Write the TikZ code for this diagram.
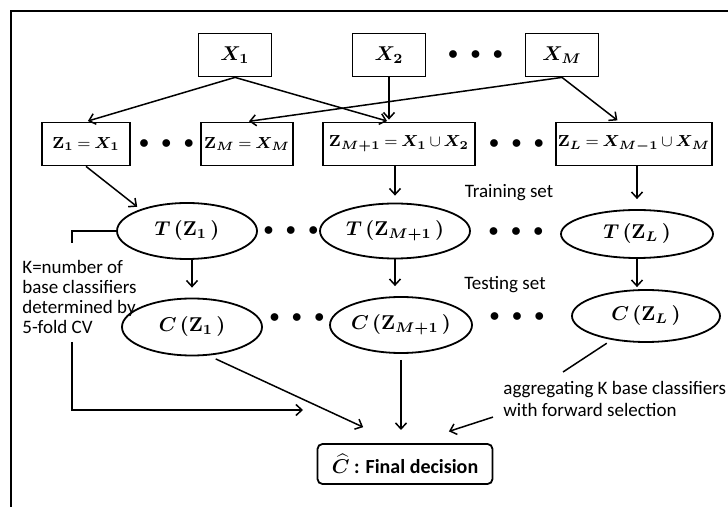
\documentclass[tikz,border=0pt]{standalone}
\usepackage{amsmath,bm}
\usepackage[no-math]{fontspec}
\setmainfont{Carlito}
\usetikzlibrary{arrows.meta,positioning,calc,shapes}
\tikzset{
  post/.style={->,shorten >=1pt,>={Straight Barb[length=3pt,width=5.5pt]},line width=0.75pt},
  link/.style={line width=0.75pt},
}
\newcommand{\vZ}[1]{\mathbf{Z}_{\bm{#1}}}
\newcommand{\vX}[1]{\bm{X}_{\bm{#1}}}
\newcommand{\dotrow}{$\bullet\hspace{4pt}\bullet\hspace{4pt}\bullet$}
\newcommand{\tightmath}{\thickmuskip=4mu plus 1mu\medmuskip=3mu plus 1mu}

\begin{document}
\begin{tikzpicture}[x=0.5pt,y=-0.5pt,
        subset/.style={rectangle, draw=black, line width=0.9pt, inner xsep=1pt,
        minimum width=36.5pt, minimum height=21.5pt, font={\fontsize{10}{12}\selectfont\tightmath}},
        model/.style={ellipse, draw=black, line width=0.9pt, inner sep=0pt,
        font={\fontsize{10}{12}\selectfont}},
        etc/.style={inner sep=0pt, font={\fontsize{10}{12}\selectfont}},
        note/.style={inner sep=0pt, align=left, font={\fontsize{9.5}{10}\selectfont}},
        decision/.style={rectangle, rounded corners=2.5pt, draw=black, line width=0.9pt,
        minimum width=87.5pt, minimum height=20pt, font={\fontsize{10}{12}\selectfont\bfseries}},
        on grid
        ]
    \useasboundingbox (0,0) rectangle (728,507);
    \draw[line width=1pt] (11,507) -- (11,11) -- (728,11);

    % subsets of the variables
    \node[subset] (x1) at (235,55) {$\vX{1}$};
    \node[subset, right=77pt of x1] (x2) {$\vX{2}$};
    \node[subset, right=86.5pt of x2] (xM) {$\vX{M}$};
    \node[etc] (d0) at ($(x2)!.5!(xM)$) {\dotrow};

    \begin{scope}[subset/.append style={font={\fontsize{8.5}{10}\selectfont\tightmath}}]
    \node[subset, minimum width=44pt] (z1) at (86,144) {$\vZ{1} = \vX{1}$};
    \node[subset, minimum width=46pt, right=80.5pt of z1] (zM) {$\vZ{M} = \vX{M}$};
    \node[subset, minimum width=76pt, right=76pt of zM] (zM1) {$\vZ{M+1} = \vX{1} \cup \vX{2}$};
    \node[subset, minimum width=77.5pt, right=117.5pt of zM1] (zL) {$\vZ{L} = \vX{M-1} \cup \vX{M}$};
    \end{scope}
    \node[etc] (d1) at ($(z1)!.5!(zM)$) {\dotrow};
    \node[etc] (d2) at ($(zM1)!.5!(zL)$) {\dotrow};

    % training and testing
    \node[model, minimum width=70pt, minimum height=28pt] (t1) at (187,231) {$\bm{T}\,\bm{(}\vZ{1}\,\bm{)}$};
    \node[model, minimum width=75pt, minimum height=27.5pt, right=104pt of t1] (tM1) {$\bm{T}\,\bm{(}\vZ{M+1}\,\bm{)}$};
    \node[model, minimum width=76pt, minimum height=24pt, below right=1.5pt and 121pt of tM1] (tL) {$\bm{T}\,\bm{(}\vZ{L}\,\bm{)}$};
    \node[etc] (d3) at ($(t1)!.5!(tM1)$) {\dotrow};
    \node[etc] (d4) at ($(tM1)!.5!(tL)$) {\dotrow};

    \node[model, minimum width=70pt, minimum height=28.5pt] (c1) at (192,327) {$\bm{C}\,\bm{(}\vZ{1}\,\bm{)}$};
    \node[model, minimum width=71pt, minimum height=28pt, above right=1pt and 104.5pt of c1] (cM1) {$\bm{C}\,\bm{(}\vZ{M+1}\,\bm{)}$};
    \node[model, minimum width=74pt, minimum height=26pt, above right=4.5pt and 122.5pt of cM1] (cL) {$\bm{C}\,\bm{(}\vZ{L}\,\bm{)}$};
    \node[etc] (d5) at (297,318) {\dotrow};
    \node[etc] (d6) at (517,317) {\dotrow};

    \node[note] (train) at (509,193) {Training set};
    \node[note] (test) at (505,285) {Testing set};

    \node[decision] (fin) at (405,464) {$\widehat{\bm{C}}$ : Final decision};

    \node[note, anchor=west] (knote) at (22,297) {K=number of\\base classifiers\\determined by\\5-fold CV};
    \node[note, anchor=west, font={\fontsize{9.5}{11}\selectfont}] (agg) at (503,399) {aggregating K base classifiers\\with forward selection};

    \coordinate (kTop) at (72,243);
    \coordinate (kBot) at (72,342);
    \coordinate (kEnd) at (305,410);
    \coordinate (f1) at (365,428);
    \coordinate (f2) at (401,432);
    \coordinate (f3) at (447,432);
    \coordinate (a1) at (563,372);

    % connectors
    \draw[post] (x1.south) -- (z1.north);
    \draw[post] (x1.south) -- ([xshift=-5pt]zM1.north);
    \draw[post] (x2.south) -- (x2.south |- zM1.north);
    \draw[post] (xM.south) -- (zM.north);
    \draw[post] (xM.south) -- ([xshift=-7.5pt]zL.north);

    \draw[post, shorten >=2pt] (z1.south) -- (t1.155);
    \draw[post, shorten >=3.5pt] (tM1.north |- zM1.south) -- (tM1.north);
    \draw[post, shorten >=5pt] (tL.north |- zL.south) -- (tL.north);

    \draw[post, shorten >=5pt] (c1.north |- t1.south) -- (c1.north);
    \draw[post, shorten >=5pt] (tM1.south) -- (tM1.south |- cM1.north);
    \draw[post] (tL.south) -- (tL.south |- cL.north);

    \draw[link] (t1.west) -| (kTop);
    \draw[post] (kBot) |- (kEnd);
    \draw[post, shorten <=4pt] (c1.-60) -- (f1);
    \draw[post, shorten <=3pt] (cM1.south) -- (f2);
    \draw[post] ([xshift=-5pt]agg.south west) -- (f3);
    \draw[link, shorten <=3pt] (cL.-145) -- (a1);
\end{tikzpicture}
\end{document}
